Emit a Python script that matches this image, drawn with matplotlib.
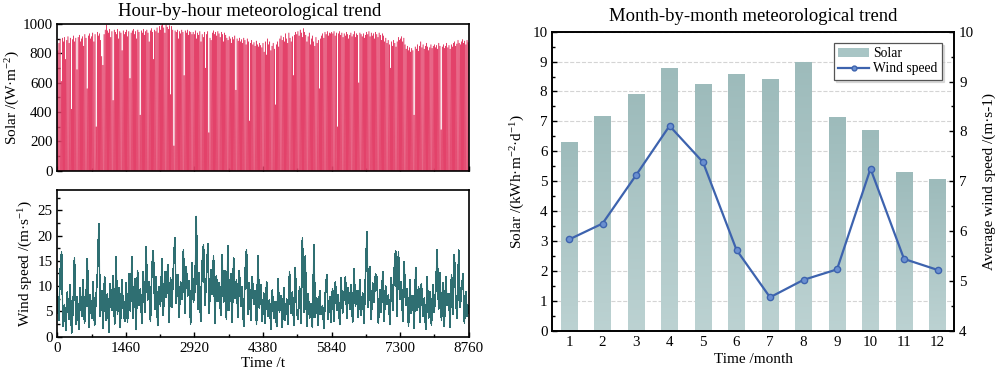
import numpy as np
import matplotlib
matplotlib.use("Agg")
import matplotlib.pyplot as plt
from matplotlib.ticker import MultipleLocator
from matplotlib.patches import Patch
from matplotlib.lines import Line2D
from matplotlib.colors import LinearSegmentedColormap

plt.rcParams['font.family'] = ['Liberation Serif', 'DejaVu Serif']
plt.rcParams['mathtext.fontset'] = 'custom'
plt.rcParams['mathtext.rm'] = 'Liberation Serif'
plt.rcParams['mathtext.it'] = 'Liberation Serif:italic'

# ---------------- data ----------------
# daily peak solar irradiance (W/m2), read month by month
solar_jan = [820, 870, 895, 610, 905, 880, 910, 760, 890, 915, 870, 905, 420, 895, 920, 880, 905, 690, 910, 925, 880, 900, 915, 850, 930, 905, 560, 920, 935, 900, 915]
solar_feb = [940, 880, 930, 300, 945, 920, 935, 890, 780, 720, 930, 960, 995, 955, 940, 965, 910, 950, 480, 960, 945, 930, 965, 900, 950, 940, 820, 955]
solar_mar = [930, 945, 960, 915, 950, 630, 940, 955, 965, 930, 950, 900, 960, 945, 380, 955, 940, 965, 925, 950, 960, 940, 880, 955, 970, 945, 760, 960, 950, 975, 940]
solar_apr = [985, 960, 990, 1000, 975, 940, 995, 980, 965, 990, 520, 985, 960, 170, 955, 945, 960, 900, 950, 935, 960, 945, 650, 955, 940, 960, 925, 950, 945, 930]
solar_may = [945, 930, 955, 900, 940, 925, 950, 880, 930, 910, 945, 700, 930, 950, 260, 905, 890, 940, 955, 930, 945, 920, 950, 935, 910, 945, 930, 880, 940, 925, 905]
solar_jun = [890, 915, 900, 870, 910, 895, 920, 550, 900, 885, 905, 880, 895, 870, 905, 890, 860, 900, 880, 340, 870, 890, 860, 875, 850, 885, 860, 845, 870, 855]
solar_jul = [840, 870, 810, 880, 790, 900, 860, 880, 820, 850, 870, 830, 450, 860, 880, 845, 900, 920, 890, 910, 880, 935, 900, 870, 940, 905, 880, 915, 650, 925, 945]
solar_aug = [930, 950, 920, 960, 940, 910, 970, 945, 925, 880, 915, 940, 860, 900, 920, 880, 850, 910, 870, 890, 560, 900, 920, 935, 905, 945, 930, 950, 920, 940, 935]
solar_sep = [945, 935, 950, 920, 940, 300, 935, 950, 925, 940, 910, 935, 920, 945, 930, 900, 925, 940, 915, 930, 950, 910, 935, 925, 600, 940, 930, 915, 935, 905]
solar_oct = [925, 945, 930, 950, 915, 940, 920, 935, 900, 945, 930, 910, 940, 925, 890, 935, 920, 880, 905, 870, 890, 860, 700, 880, 850, 890, 870, 845, 880, 910, 890]
solar_nov = [900, 915, 880, 905, 860, 830, 850, 820, 840, 810, 835, 820, 380, 845, 830, 860, 815, 850, 880, 840, 860, 830, 850, 870, 845, 820, 840, 860, 835, 850]
solar_dec = [860, 840, 855, 830, 870, 850, 280, 845, 860, 835, 850, 870, 840, 855, 830, 860, 845, 870, 880, 850, 865, 890, 870, 860, 880, 895, 870, 885, 860, 890, 875]

# wind speed (m/s) samples across the year, one row per month
wind_m01 = [9.5, 3.2, 12.8, 16.7, 2.1, 6.4, 1.2, 8.8, 3.5, 10.2, 0.8, 5.6, 15.6, 2.4, 7.9, 1.5, 9.6, 4.1, 11.3, 2.7, 6.8, 15.4, 1.9, 8.2]
wind_m02 = [3.6, 10.8, 2.2, 7.4, 12.5, 22.3, 4.0, 9.1, 1.6, 11.9, 3.3, 8.5, 0.9, 10.4, 5.2, 12.1, 2.5, 15.7, 4.4, 9.7, 1.8, 11.2, 6.0, 3.1]
wind_m03 = [10.6, 2.9, 12.4, 5.1, 15.8, 3.7, 11.5, 1.4, 13.1, 6.3, 9.4, 2.6, 12.8, 4.8, 17.7, 7.2, 10.9, 3.0, 13.6, 17.0, 5.5, 11.8, 2.2, 9.9]
wind_m04 = [6.1, 15.4, 4.3, 12.9, 7.8, 14.2, 2.8, 11.6, 5.9, 13.5, 19.5, 6.6, 12.2, 3.9, 10.8, 7.5, 17.2, 4.6, 13.8, 8.1, 11.1, 2.5, 14.6, 6.9]
wind_m05 = [9.2, 23.8, 5.4, 12.7, 3.1, 14.3, 18.2, 6.2, 11.4, 18.3, 4.7, 13.2, 8.4, 15.9, 2.6, 12.0, 7.1, 10.6, 4.2, 16.2, 6.8, 13.0, 3.4, 17.9]
wind_m06 = [5.3, 12.4, 2.9, 15.5, 7.6, 11.2, 3.8, 13.1, 6.0, 9.8, 2.1, 12.6, 17.2, 4.5, 10.7, 3.2, 11.9, 6.4, 9.0, 2.4, 15.9, 5.6, 10.3, 3.0]
wind_m07 = [8.6, 2.7, 10.9, 4.1, 7.3, 1.5, 9.2, 3.6, 6.9, 2.0, 11.4, 4.8, 8.0, 1.9, 9.6, 3.3, 7.4, 2.5, 12.9, 4.6, 8.8, 2.2, 13.7, 5.0]
wind_m08 = [3.4, 9.8, 2.6, 19.5, 4.9, 15.9, 2.1, 8.4, 3.7, 6.5, 1.8, 18.1, 3.9, 7.6, 2.3, 9.1, 4.4, 6.2, 1.6, 8.7, 12.3, 3.5, 7.9, 2.8]
wind_m09 = [9.5, 3.1, 10.8, 5.2, 8.3, 2.4, 11.6, 4.7, 7.9, 11.8, 3.6, 9.7, 5.5, 10.3, 2.9, 13.4, 6.1, 9.0, 3.8, 11.2, 4.3, 8.6, 2.6, 12.1]
wind_m10 = [20.7, 5.8, 13.9, 3.4, 10.6, 6.9, 12.4, 11.8, 2.7, 9.3, 4.9, 12.8, 3.1, 10.1, 6.5, 8.2, 2.4, 11.7, 5.3, 13.2, 17.0, 4.1, 16.7, 7.4]
wind_m11 = [10.9, 3.0, 14.8, 6.2, 9.5, 2.1, 11.3, 4.6, 8.1, 1.7, 13.7, 5.3, 9.9, 2.8, 10.5, 4.0, 7.6, 1.5, 11.8, 3.7, 8.8, 2.3, 10.2, 4.9]
wind_m12 = [9.4, 17.2, 5.5, 12.6, 3.2, 10.7, 2.0, 11.9, 6.3, 8.5, 1.9, 12.2, 4.4, 16.2, 7.0, 3.6, 17.1, 5.8, 9.2, 12.5, 2.7, 8.9, 4.1, 6.0]

hour_ticks = [0, 1460, 2920, 4380, 5840, 7300, 8760]

months = [1, 2, 3, 4, 5, 6, 7, 8, 9, 10, 11, 12]
solar_month = [6.32, 7.17, 7.92, 8.80, 8.24, 8.58, 8.42, 9.00, 7.16, 6.71, 5.32, 5.08]
wind_month = [5.83, 6.15, 7.12, 8.11, 7.38, 5.62, 4.67, 5.02, 5.23, 7.25, 5.44, 5.22]

# ---------------- styling ----------------
SOLAR_RED = '#e3426a'
WIND_TEAL = '#2f6f72'
WIND_LIGHT = '#a3c1c1'
BAR_COLOR = '#a8c5c5'
LINE_BLUE = '#3d63ae'
TICK_FS = 10.8
LABEL_FS = 11
TITLE_FS = 13.4

fig = plt.figure(figsize=(9.96, 3.74), dpi=100)

def style_axes(ax):
    for s in ax.spines.values():
        s.set_linewidth(1.2)
    ax.tick_params(which='both', direction='in', labelsize=TICK_FS, width=1.0)
    ax.tick_params(which='major', length=3.5)
    ax.tick_params(which='minor', length=2)

# ---- hourly solar ----
ax1 = fig.add_axes([0.0575, 0.5436, 0.4131, 0.3922])
solar_peak = np.array(solar_jan + solar_feb + solar_mar + solar_apr + solar_may + solar_jun +
                      solar_jul + solar_aug + solar_sep + solar_oct + solar_nov + solar_dec, dtype=float)
days = np.arange(solar_peak.size)
zeros = np.zeros_like(solar_peak)
sx = np.column_stack([days * 24 + 8, days * 24 + 12, days * 24 + 16]).ravel()
sy = np.column_stack([zeros, solar_peak, zeros]).ravel()
ax1.plot(sx, sy, color=SOLAR_RED, lw=0.38)
ax1.set_xlim(0, 8760)
ax1.set_ylim(0, 1000)
ax1.set_xticks(hour_ticks)
ax1.xaxis.set_minor_locator(MultipleLocator(730))
ax1.yaxis.set_major_locator(MultipleLocator(200))
ax1.yaxis.set_minor_locator(MultipleLocator(100))
style_axes(ax1)
ax1.tick_params(axis='x', labelbottom=False)
ax1.set_ylabel('Solar /(W·m$^{-2}$)', fontsize=LABEL_FS, labelpad=0)
fig.text(0.251, 1 - 16 / 374, 'Hour-by-hour meteorological trend', ha='center', va='baseline',
         fontsize=TITLE_FS)

# ---- hourly wind ----
ax2 = fig.add_axes([0.0575, 0.0997, 0.4131, 0.3922])
wind_hourly = np.array(wind_m01 + wind_m02 + wind_m03 + wind_m04 + wind_m05 + wind_m06 +
                       wind_m07 + wind_m08 + wind_m09 + wind_m10 + wind_m11 + wind_m12, dtype=float)
wx = np.linspace(0, 8760, wind_hourly.size)
ax2.plot(wx, wind_hourly, color=WIND_LIGHT, lw=0.9)
ax2.plot(wx, wind_hourly, color=WIND_TEAL, lw=0.55, antialiased=False)
ax2.set_xlim(0, 8760)
ax2.set_ylim(0, 29)
ax2.set_xticks(hour_ticks)
ax2.xaxis.set_minor_locator(MultipleLocator(730))
ax2.yaxis.set_major_locator(MultipleLocator(5))
ax2.yaxis.set_minor_locator(MultipleLocator(2.5))
style_axes(ax2)
ax2.set_ylabel('Wind speed /(m·s$^{-1}$)', fontsize=LABEL_FS, labelpad=2)
ax2.set_xlabel('Time /t', fontsize=LABEL_FS, labelpad=2)

# ---- monthly ----
ax3 = fig.add_axes([0.5545, 0.1158, 0.4036, 0.7995])
ax3.set_axisbelow(True)
ax3.yaxis.grid(True, ls='--', color='#d4d4d4', lw=0.8)
bars = ax3.bar(months, solar_month, width=0.5, color='none', edgecolor='none', zorder=2)
cmap = LinearSegmentedColormap.from_list('barg', ['#bcd2d2', '#9dbbbb'])
grad = np.linspace(0, 1, 256).reshape(-1, 1)
for b in bars:
    x0 = b.get_x()
    w = b.get_width()
    h = b.get_height()
    im = ax3.imshow(grad, extent=[x0, x0 + w, 0, h], origin='lower', aspect='auto',
                    cmap=cmap, zorder=2, interpolation='bilinear')
    im.set_clip_path(b)
ax3.set_xlim(0.5, 12.5)
ax3.set_ylim(0, 10)
ax3.set_xticks(months)
ax3.yaxis.set_major_locator(MultipleLocator(1))
ax3.yaxis.set_minor_locator(MultipleLocator(0.5))
style_axes(ax3)
ax3.tick_params(axis='x', which='minor', bottom=False)
ax3.set_ylabel('Solar /(kWh·m$^{-2}$·d$^{-1}$)', fontsize=LABEL_FS, labelpad=4)
ax3.set_xlabel('Time /month', fontsize=LABEL_FS, labelpad=3)
ax3.set_title('Month-by-month meteorological trend', fontsize=TITLE_FS, pad=8)

ax4 = ax3.twinx()
ax4.plot(months, wind_month, color=LINE_BLUE, lw=1.6, marker='o', ms=4.5,
         mfc='#6a8fd0', mec=LINE_BLUE, mew=1.0, zorder=3)
ax4.set_ylim(4, 10)
ax4.yaxis.set_major_locator(MultipleLocator(1))
ax4.yaxis.set_minor_locator(MultipleLocator(0.5))
style_axes(ax4)
ax4.set_ylabel('Average wind speed /(m·s-1)', fontsize=LABEL_FS, labelpad=6)

handles = [Patch(facecolor=BAR_COLOR, edgecolor='none', label='Solar'),
           Line2D([0], [0], color=LINE_BLUE, lw=1.6, marker='o', ms=3.5, mfc='#6a8fd0',
                  mec=LINE_BLUE, label='Wind speed')]
leg = ax4.legend(handles=handles, loc='upper right', bbox_to_anchor=(0.969, 0.961),
                 borderaxespad=0, fontsize=9.8, fancybox=False, framealpha=1,
                 edgecolor='#555555', handlelength=2.3, handletextpad=0.3,
                 borderpad=0.3, labelspacing=0.15,
                 shadow={'ox': 1.5, 'oy': -1.5, 'color': '0.75'})
leg.get_frame().set_linewidth(0.9)

fig.savefig('out.png', dpi=100)
